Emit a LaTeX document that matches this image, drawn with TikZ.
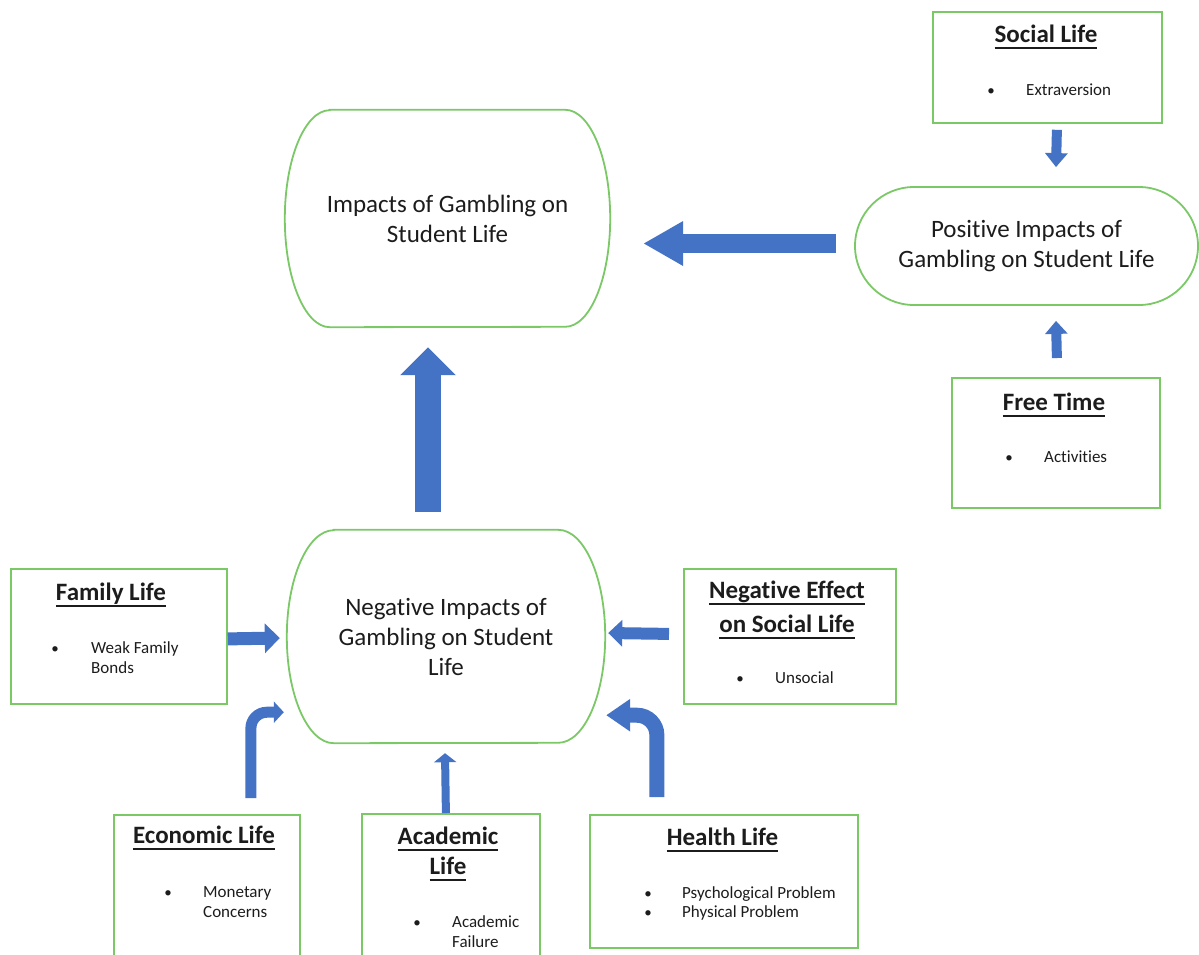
\documentclass[tikz,border=0pt]{standalone}
\usepackage{fontspec}
\setmainfont{Carlito}[Ligatures=NoCommon]
\usetikzlibrary{arrows.meta,shapes.misc,calc}
\definecolor{gbox}{RGB}{122,200,102}
\definecolor{ablue}{RGB}{68,114,196}
\definecolor{txt}{RGB}{28,28,28}
\newcommand\tl[1]{\setbox0\hbox{#1}\rlap{\color{txt}\rule[-7pt]{\wd0}{2pt}}\box0}
\newcommand\twol[3]{\begin{tabular}[t]{@{}#1@{}}#2\\#3\end{tabular}}
\begin{document}
\begin{tikzpicture}[x=1pt,y=-1pt,
  outline/.style={draw=gbox,line width=1.8pt},
  boxr/.style={outline,rectangle,inner sep=0pt,anchor=north west},
  bigtext/.style={inner sep=0pt,align=center,text=txt,font=\fontsize{25}{30}\selectfont},
  ttl/.style={inner sep=0pt,anchor=base,text=txt,font=\fontsize{25}{30}\selectfont\bfseries},
  itm/.style={inner sep=0pt,anchor=base west,text=txt,font=\fontsize{17}{20.5}\selectfont},
  bul/.style={inner sep=0pt,anchor=base,text=txt,font=\fontsize{15}{20.5}\selectfont},
  arr/.style={draw=ablue,fill=ablue}
]
\useasboundingbox (0,0) rectangle (1199,954);
\renewcommand\arraystretch{1}

% central shapes
\node[bigtext,minimum width=325pt,minimum height=217pt] (top) at (447.5,218.5) {Impacts of Gambling on\\Student Life};
\draw[outline] ([xshift=45pt]top.north west) -- ([xshift=-45pt]top.north east)
  arc[start angle=90,end angle=-90,x radius=45pt,y radius=108.5pt]
  -- ([xshift=45pt]top.south west)
  arc[start angle=270,end angle=90,x radius=45pt,y radius=108.5pt] -- cycle;

\node[bigtext,minimum width=318pt,minimum height=213pt] (neg) at (446,636.5) {Negative Impacts of\\Gambling on Student\\Life};
\draw[outline] ([xshift=47pt]neg.north west) -- ([xshift=-47pt]neg.north east)
  arc[start angle=90,end angle=-90,x radius=47pt,y radius=106.5pt]
  -- ([xshift=47pt]neg.south west)
  arc[start angle=270,end angle=90,x radius=47pt,y radius=106.5pt] -- cycle;

\node[bigtext,outline,rounded rectangle,minimum width=343pt,minimum height=118pt] (pos) at (1026.5,246) {Positive Impacts of\\Gambling on Student Life};

% boxes
\node[boxr,minimum width=229pt,minimum height=111pt] (soc) at (932,11) {};
\node[ttl] (socT) at (1046,42) {\tl{Social Life}};
\node[bul] (socB) at (991,95) {\textbullet};
\node[itm] (socI) at (1026,95) {Extraversion};

\node[boxr,minimum width=208pt,minimum height=130pt] (free) at (951,377) {};
\node[ttl] (freeT) at (1054,410) {\tl{Free Time}};
\node[bul] (freeB) at (1009,462) {\textbullet};
\node[itm] (freeI) at (1044,462) {Activities};

\node[boxr,minimum width=216pt,minimum height=135pt] (fam) at (10,568) {};
\node[ttl] (famT) at (111,600) {\tl{Family Life}};
\node[bul] (famB) at (55,653) {\textbullet};
\node[itm] (famI) at (91,653) {\fontsize{17}{20.5}\selectfont\twol{l}{Weak Family}{Bonds}};

\node[boxr,minimum width=212pt,minimum height=135pt] (nsoc) at (683,568) {};
\node[ttl] (nsocT) at (787,598) {\fontsize{25}{34}\selectfont\twol{c}{\tl{Negative Effect}}{\tl{on Social Life}}};
\node[bul] (nsocB) at (740,683) {\textbullet};
\node[itm] (nsocI) at (775,683) {Unsocial};

\node[boxr,minimum width=186pt,minimum height=150pt] (eco) at (113,814) {};
\node[ttl] (ecoT) at (204,843) {\tl{Economic Life}};
\node[bul] (ecoB) at (168,897) {\textbullet};
\node[itm] (ecoI) at (203,897) {\fontsize{17}{20}\selectfont\twol{l}{Monetary}{Concerns}};

\node[boxr,minimum width=178pt,minimum height=150pt] (acad) at (361,813) {};
\node[ttl] (acadT) at (448,844) {\fontsize{25}{30}\selectfont\twol{c}{\tl{Academic}}{\tl{Life}}};
\node[bul] (acadB) at (417,927) {\textbullet};
\node[itm] (acadI) at (452,927) {\fontsize{17}{20}\selectfont\twol{l}{Academic}{Failure}};

\node[boxr,minimum width=268pt,minimum height=133pt] (hea) at (589,814) {};
\node[ttl] (heaT) at (722.5,845) {\tl{Health Life}};
\node[bul] (heaB) at (648,898) {\textbullet};
\node[itm] (heaI) at (682,898) {\fontsize{17}{19.5}\selectfont\twol{l}{Psychological Problem}{Physical Problem}};
\node[bul] (heaB2) at (648,917.5) {\textbullet};

% arrows
\draw[arr,line width=26pt,-{Triangle[length=28pt,width=54pt]}]
  ([xshift=-18pt,yshift=18pt]neg.north) -- ([xshift=-19.5pt,yshift=-20pt]top.south);
\draw[arr,line width=19pt,-{Triangle[length=40pt,width=42pt]}]
  ([xshift=-18pt,yshift=2.5pt]pos.west) -- ([xshift=33pt,yshift=-25pt]top.east);
\draw[arr,line width=10pt,-{Triangle[length=14pt,width=22pt]}]
  ([xshift=9.5pt,yshift=-6pt]soc.south) -- ([xshift=29.5pt,yshift=19pt]pos.north);
\draw[arr,line width=10pt,-{Triangle[length=13pt,width=22pt]}]
  ([xshift=1pt,yshift=19pt]free.north) -- ([xshift=29.5pt,yshift=-15pt]pos.south);
\draw[arr,line width=13pt,-{Triangle[length=15pt,width=29pt]}]
  ([yshift=-2.5pt]fam.east) -- ([xshift=-7pt,yshift=-1.5pt]neg.west);
\draw[arr,line width=12pt,-{Triangle[length=14pt,width=26pt]}]
  ([xshift=-14pt,yshift=2.5pt]nsoc.west) -- ([xshift=3pt,yshift=3.5pt]neg.east);
\draw[arr,line width=8pt,-{Triangle[length=9pt,width=22pt]}]
  ([xshift=-5pt]acad.north) -- ([xshift=-1pt,yshift=-10pt]neg.south);
\draw[arr,fill=none,line width=11pt,rounded corners=16pt,-{Triangle[length=10pt,width=21pt,fill=ablue]}]
  ([xshift=44pt,yshift=16pt]eco.north) |- ([xshift=-3pt,yshift=31pt]neg.south west);
\draw[arr,fill=none,line width=15pt,rounded corners=20pt,-{Triangle[length=24pt,width=31pt,fill=ablue]}]
  ([xshift=-67pt,yshift=17pt]hea.north) |- ([xshift=1pt,yshift=28pt]neg.south east);
\end{tikzpicture}
\end{document}
